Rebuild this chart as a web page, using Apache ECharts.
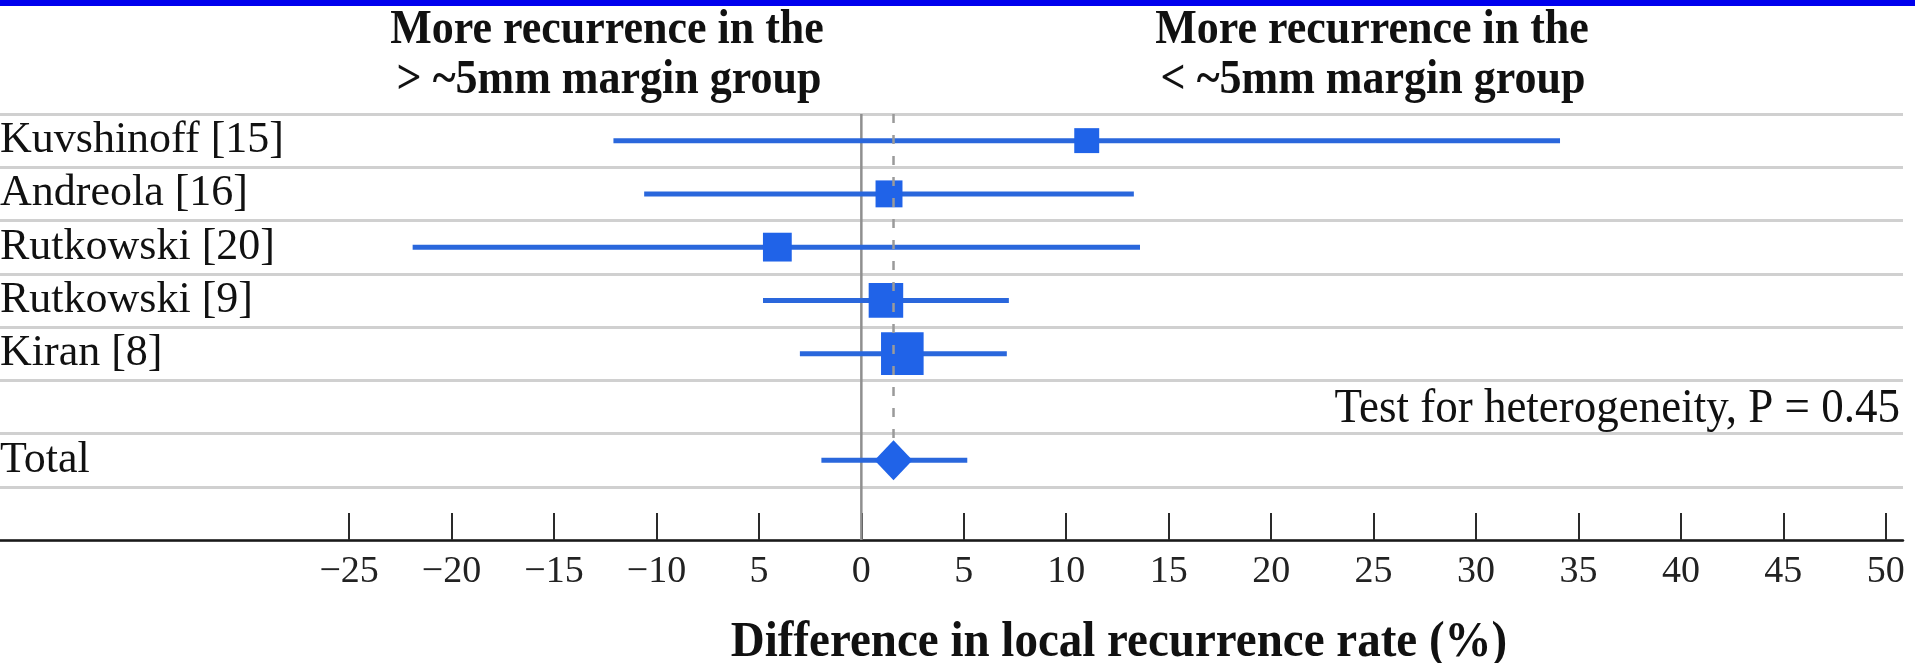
<!DOCTYPE html>
<html><head><meta charset="utf-8">
<script src="https://cdn.jsdelivr.net/npm/echarts@6/dist/echarts.min.js"></script>
<style>html,body{margin:0;padding:0;background:#fff}#c{width:1915px;height:663px}</style>
</head><body><div id="c"></div>
<script>
// ---- data ----
const studies = ["Kuvshinoff [15]", "Andreola [16]", "Rutkowski [20]", "Rutkowski [9]", "Kiran [8]"];
const estimate = [11.0, 1.35, -4.1, 1.2, 2.0];
const lower = [-12.1, -10.6, -21.9, -4.8, -3.0];
const upper = [34.1, 13.3, 13.6, 7.2, 7.1];
const weight = [12, 14, 16, 23, 35];
const totalLabel = "Total";
const totalEstimate = 1.57;
const totalLower = -1.95;
const totalUpper = 5.17;
const nullEffect = 0;
const heterogeneityText = "Test for heterogeneity, P = 0.45";
const tickValues = [-25, -20, -15, -10, -5, 0, 5, 10, 15, 20, 25, 30, 35, 40, 45, 50];
const tickLabels = ["\u221225", "\u221220", "\u221215", "\u221210", "5", "0", "5", "10", "15", "20", "25", "30", "35", "40", "45", "50"];
const leftHeader = ["More recurrence in the", "> ~5mm margin group"];
const rightHeader = ["More recurrence in the", "< ~5mm margin group"];
const axisTitle = "Difference in local recurrence rate (%)";

// ---- chart ----
const rows = studies.concat([" ", totalLabel, "  "]);
const totalRow = rows.indexOf(totalLabel);
const SERIF = '"Liberation Serif", "Times New Roman", serif';
const LINE_BLUE = '#2a67dc';
const MARK_BLUE = '#2063e8';

const chart = echarts.init(document.getElementById('c'), null, {renderer: 'canvas'});

function hLine(params, api) {
  const a = api.coord([api.value(0), api.value(2)]);
  const b = api.coord([api.value(1), api.value(2)]);
  return {type: 'line', shape: {x1: a[0], y1: a[1], x2: b[0], y2: b[1]},
          style: {stroke: LINE_BLUE, lineWidth: 5, lineCap: 'butt'}};
}

function txt(x, y, text, font, align) {
  return {type: 'text', x: x, y: y, scaleY: 1.1,
          style: {text: text, font: font, fill: '#111', align: align, verticalAlign: 'middle'}};
}

const option = {
  animation: false,
  backgroundColor: '#fff',
  grid: {left: 0, right: 12, top: 114, bottom: 123, containLabel: false, outerBoundsMode: 'none'},
  xAxis: {
    type: 'value', min: -42.04, max: 50.84,
    axisLine: {show: true, lineStyle: {color: '#1a1a1a', width: 2.5}},
    axisTick: {show: true, inside: true, length: 27, customValues: tickValues,
               lineStyle: {color: '#2a2a2a', width: 2}},
    axisLabel: {show: true, customValues: tickValues, margin: 32, verticalAlign: 'middle',
                formatter: v => tickLabels[tickValues.indexOf(v)],
                fontFamily: SERIF, fontSize: 38, color: '#222', hideOverlap: false},
    splitLine: {show: false}
  },
  yAxis: {
    type: 'category', data: rows, inverse: true,
    axisLine: {show: false}, axisTick: {show: false},
    axisLabel: {show: true, inside: true, margin: 0, align: 'left', interval: 0, hideOverlap: false,
                fontFamily: SERIF, fontSize: 44, color: '#111'},
    splitLine: {show: true, interval: 0, lineStyle: {color: '#d0d0d0', width: 3}}
  },
  series: [
    { // null-effect line
      type: 'custom', z: 1, silent: true,
      data: [[nullEffect]],
      renderItem: (params, api) => {
        const band = api.size([0, 1])[1];
        const t = api.coord([api.value(0), 0]);
        const b = api.coord([api.value(0), rows.length - 1]);
        return {type: 'line', shape: {x1: t[0], y1: t[1] - band / 2, x2: b[0], y2: b[1] + band / 2},
                style: {stroke: '#8f8f8f', lineWidth: 2.5}};
      }
    },
    { // study CIs
      type: 'custom', z: 3, silent: true,
      encode: {x: [0, 1], y: 2},
      data: studies.map((s, i) => [lower[i], upper[i], i]),
      renderItem: hLine
    },
    { // total CI
      type: 'custom', z: 3, silent: true,
      encode: {x: [0, 1], y: 2},
      data: [[totalLower, totalUpper, totalRow]],
      renderItem: hLine
    },
    { // study squares
      type: 'scatter', z: 4, silent: true, symbol: 'rect',
      data: studies.map((s, i) => ({value: [estimate[i], i], symbolSize: Math.sqrt(weight[i]) * 7.2})),
      itemStyle: {color: MARK_BLUE, opacity: 1}
    },
    { // pooled diamond
      type: 'scatter', z: 4, silent: true, symbol: 'diamond',
      data: [[totalEstimate, totalRow]], symbolSize: [38, 40],
      itemStyle: {color: MARK_BLUE, opacity: 1}
    },
    { // pooled estimate dashed line
      type: 'custom', z: 5, silent: true,
      data: [[totalEstimate, totalRow]],
      renderItem: (params, api) => {
        const band = api.size([0, 1])[1];
        const t = api.coord([api.value(0), 0]);
        const c = api.coord([api.value(0), api.value(1)]);
        return {type: 'line', shape: {x1: t[0], y1: t[1] - band / 2, x2: c[0], y2: c[1] - 20},
                style: {stroke: '#9a9a9a', lineWidth: 2.5, lineDash: [9, 12]}};
      }
    }
  ],
  graphic: [
    {type: 'rect', shape: {x: 0, y: 0, width: 1915, height: 6}, style: {fill: '#0000ee'}, z: 100},
    txt(607, 31, leftHeader[0], 'bold 44px ' + SERIF, 'center'),
    txt(609, 81, leftHeader[1], 'bold 44px ' + SERIF, 'center'),
    txt(1372, 31, rightHeader[0], 'bold 44px ' + SERIF, 'center'),
    txt(1373, 81, rightHeader[1], 'bold 44px ' + SERIF, 'center'),
    txt(1900, 409, heterogeneityText, '45px ' + SERIF, 'right'),
    txt(1119, 643, axisTitle, 'bold 47px ' + SERIF, 'center')
  ]
};
chart.setOption(option);
</script>
</body></html>
